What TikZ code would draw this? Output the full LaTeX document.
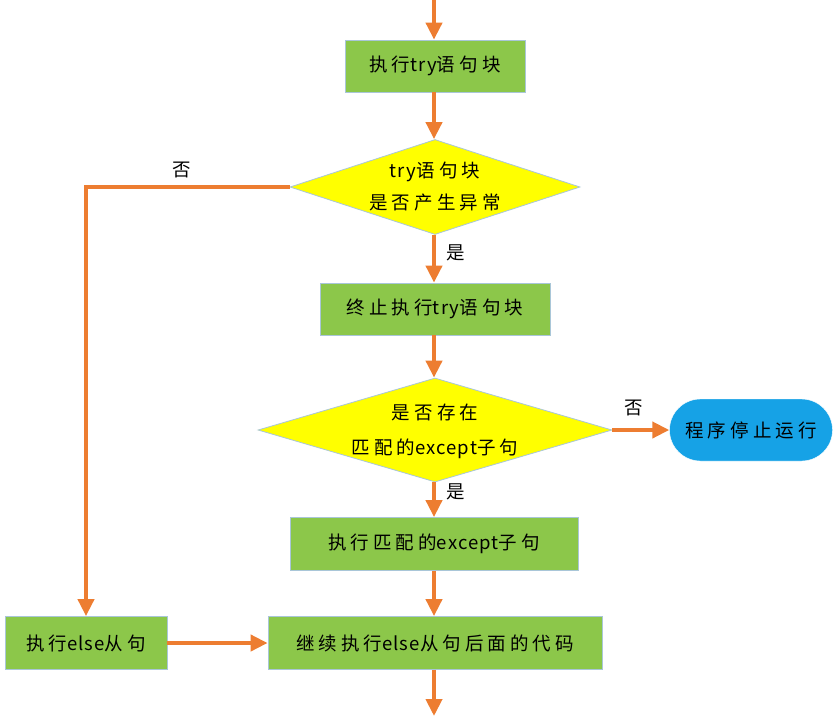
\documentclass[tikz,border=0pt]{standalone}
\usepackage{fontspec}
\setmainfont{Noto Sans CJK SC}[LetterSpace=22]
\newfontfamily\latf{Noto Sans CJK SC}[LetterSpace=6]
\usetikzlibrary{arrows.meta,shapes.geometric}
\definecolor{flowor}{HTML}{ED7D31}
\definecolor{boxgreen}{HTML}{8CC74A}
\definecolor{boxedge}{HTML}{A9C6D8}
\definecolor{termblue}{HTML}{16A2E6}
\definecolor{dyellow}{HTML}{FFFF00}
\newcommand{\lw}[1]{{\latf #1}}
\begin{document}
\begin{tikzpicture}[x=1pt,y=-1pt,
  font=\fontsize{18.5}{22}\selectfont,
  flow/.style={draw=flowor, line width=4pt, -{Triangle[width=16pt,length=17pt]}},
  procbox/.style={rectangle, fill=boxgreen, draw=boxedge, line width=0.8pt, inner sep=0pt},
  decision/.style={diamond, fill=dyellow, draw=boxedge, line width=0.8pt, inner sep=0pt},
  termnode/.style={rectangle, rounded corners=31pt, fill=termblue, draw=white, inner sep=0pt},
  lbl/.style={inner sep=0pt},
  dtext/.style={inner sep=0pt, align=center}
]
\useasboundingbox (0,0) rectangle (837,718);
\coordinate (top) at (434,0);
\coordinate (bot) at (434,716);
\node[procbox, minimum width=180pt, minimum height=52pt] (b1) at (435,66) {执行\lw{try}语句块};
\node[decision, minimum width=290pt, minimum height=95pt] (d1) at (435,187) {};
\node[dtext] (d1t) at (d1) {\lw{try}语句块\\[10pt]是否产生异常};
\node[procbox, minimum width=230pt, minimum height=52pt] (b2) at (435,309) {终止执行\lw{try}语句块};
\node[decision, minimum width=354pt, minimum height=104pt] (d2) at (435,430) {};
\node[dtext] (d2t) at (435,431) {是否存在\\[13pt]匹配的\lw{except}子句};
\node[termnode, minimum width=163pt, minimum height=62pt] (t1) at (751,430) {程序停止运行};
\node[procbox, minimum width=288pt, minimum height=53pt] (b3) at (434,544) {执行匹配的\lw{except}子句};
\node[procbox, minimum width=334pt, minimum height=53pt] (b4) at (435,643) {继续执行\lw{else}从句后面的代码};
\node[procbox, minimum width=162pt, minimum height=53pt] (be) at (86,643) {执行\lw{else}从句};
\node[lbl] (no1) at (182,170) {否};
\node[lbl] (yes1) at (456,253) {是};
\node[lbl] (no2) at (634,408) {否};
\node[lbl] (yes2) at (456,492) {是};
\draw[flow] (top) -- (b1.north -| top);
\draw[flow] (b1.south -| top) -- (d1.north -| top);
\draw[flow] (d1.south -| top) -- (b2.north -| top);
\draw[flow] (b2.south -| top) -- (d2.north -| top);
\draw[flow] (d2.east) -- (t1.west);
\draw[flow] (d2.south -| top) -- (b3.north -| top);
\draw[flow] (b3.south -| top) -- (b4.north -| top);
\draw[flow] (b4.south -| top) -- (bot);
\draw[flow] (d1.west) -| (be.north);
\draw[flow] (be.east) -- (b4.west);
\end{tikzpicture}
\end{document}
